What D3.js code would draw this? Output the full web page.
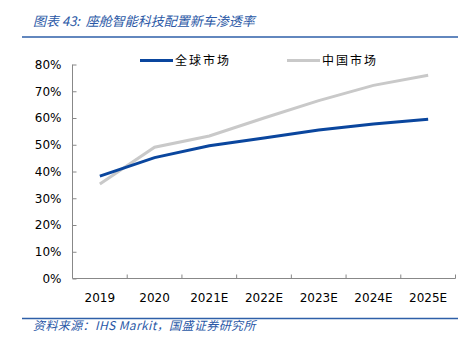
<!DOCTYPE html>
<meta charset="utf-8">
<script src="https://d3js.org/d3.v7.min.js"></script>
<style>
  body { margin: 0; background: #fff; }
  text { font-family: "DejaVu Sans", Verdana, sans-serif; }
  .cjk { font-family: "Noto Sans CJK SC", sans-serif; }
</style>
<body>
<div id="viz"></div>
<script>

// data
const years = ["2019", "2020", "2021E", "2022E", "2023E", "2024E", "2025E"];
const globalMarket = [38.3, 45.2, 49.6, 52.5, 55.5, 57.8, 59.5];
const chinaMarket = [35.3, 49.1, 53.3, 60.0, 66.5, 72.2, 76.0];
const yTicks = [0, 10, 20, 30, 40, 50, 60, 70, 80];

const W = 475, H = 351;
const margin = {top: 64.5, right: 19.5, bottom: 72.5, left: 72.5},
    width = W - margin.left - margin.right,
    height = H - margin.top - margin.bottom;

const root = d3.select("#viz").append("svg")
    .attr("width", W)
    .attr("height", H);

// title + rule
root.append("text")
    .attr("class", "cjk")
    .attr("x", 33).attr("y", 26)
    .attr("fill", "#2a58a6")
    .style("font-size", "13px")
    .style("font-style", "italic")
    .text("图表 43:\u00a0\u00a0座舱智能科技配置新车渗透率");
root.append("line")
    .attr("x1", 22).attr("x2", 458).attr("y1", 37).attr("y2", 37)
    .attr("stroke", "#2e5fa8").attr("stroke-width", 1.5);

// footer
root.append("line")
    .attr("x1", 22).attr("x2", 458).attr("y1", 318.5).attr("y2", 318.5)
    .attr("stroke", "#2e5fa8").attr("stroke-width", 1.5);
root.append("text")
    .attr("class", "cjk")
    .attr("x", 33).attr("y", 330)
    .attr("fill", "#2a58a6")
    .style("font-size", "12px")
    .style("font-style", "italic")
    .style("letter-spacing", "0.4px")
    .text("资料来源：IHS Markit，国盛证券研究所");

const svg = root.append("g")
    .attr("transform", `translate(${margin.left}, ${margin.top})`);

const x = d3.scaleBand().domain(years).range([0, width]);
const y = d3.scaleLinear().domain([0, 80]).range([height, 0]);

// y axis
const yAxis = svg.append("g")
    .call(d3.axisLeft(y).tickValues(yTicks).tickSize(-4).tickPadding(11)
      .tickFormat(d => d + "%"));
yAxis.select(".domain").attr("stroke", "#888").attr("d", `M0,0V${height}`);
yAxis.selectAll(".tick line").attr("stroke", "#888");
yAxis.selectAll("text").style("font-size", "12px").attr("fill", "#000");

// x axis
const xAxis = svg.append("g")
    .attr("transform", `translate(0, ${height})`)
    .call(d3.axisBottom(x).tickSize(0).tickPadding(15));
xAxis.select(".domain").attr("stroke", "#888").attr("d", `M0,0H${width}`);
xAxis.selectAll("text").style("font-size", "12px").attr("fill", "#000");
xAxis.selectAll(".bound")
  .data(d3.range(1, years.length + 1))
  .enter().append("line")
    .attr("x1", i => i * x.bandwidth()).attr("x2", i => i * x.bandwidth())
    .attr("y1", 0).attr("y2", -4)
    .attr("stroke", "#888");

const line = d3.line()
    .x((d, i) => x(years[i]) + x.bandwidth() / 2)
    .y(d => y(d));

svg.append("path")
    .datum(chinaMarket)
    .attr("fill", "none")
    .attr("stroke", "#c9c9c9")
    .attr("stroke-width", 3)
    .attr("d", line);

svg.append("path")
    .datum(globalMarket)
    .attr("fill", "none")
    .attr("stroke", "#0a469e")
    .attr("stroke-width", 3)
    .attr("d", line);

// legend
const legend = [
  {name: "全球市场", color: "#0a469e", x: 140},
  {name: "中国市场", color: "#c9c9c9", x: 287}
];
legend.forEach(function(l) {
  root.append("line")
      .attr("x1", l.x).attr("x2", l.x + 33)
      .attr("y1", 60.5).attr("y2", 60.5)
      .attr("stroke", l.color).attr("stroke-width", 3);
  root.append("text")
      .attr("class", "cjk")
      .attr("x", l.x + 35).attr("y", 65)
      .style("font-size", "12px")
      .style("letter-spacing", "2px")
      .attr("fill", "#000")
      .text(l.name);
});

</script>
</body>
